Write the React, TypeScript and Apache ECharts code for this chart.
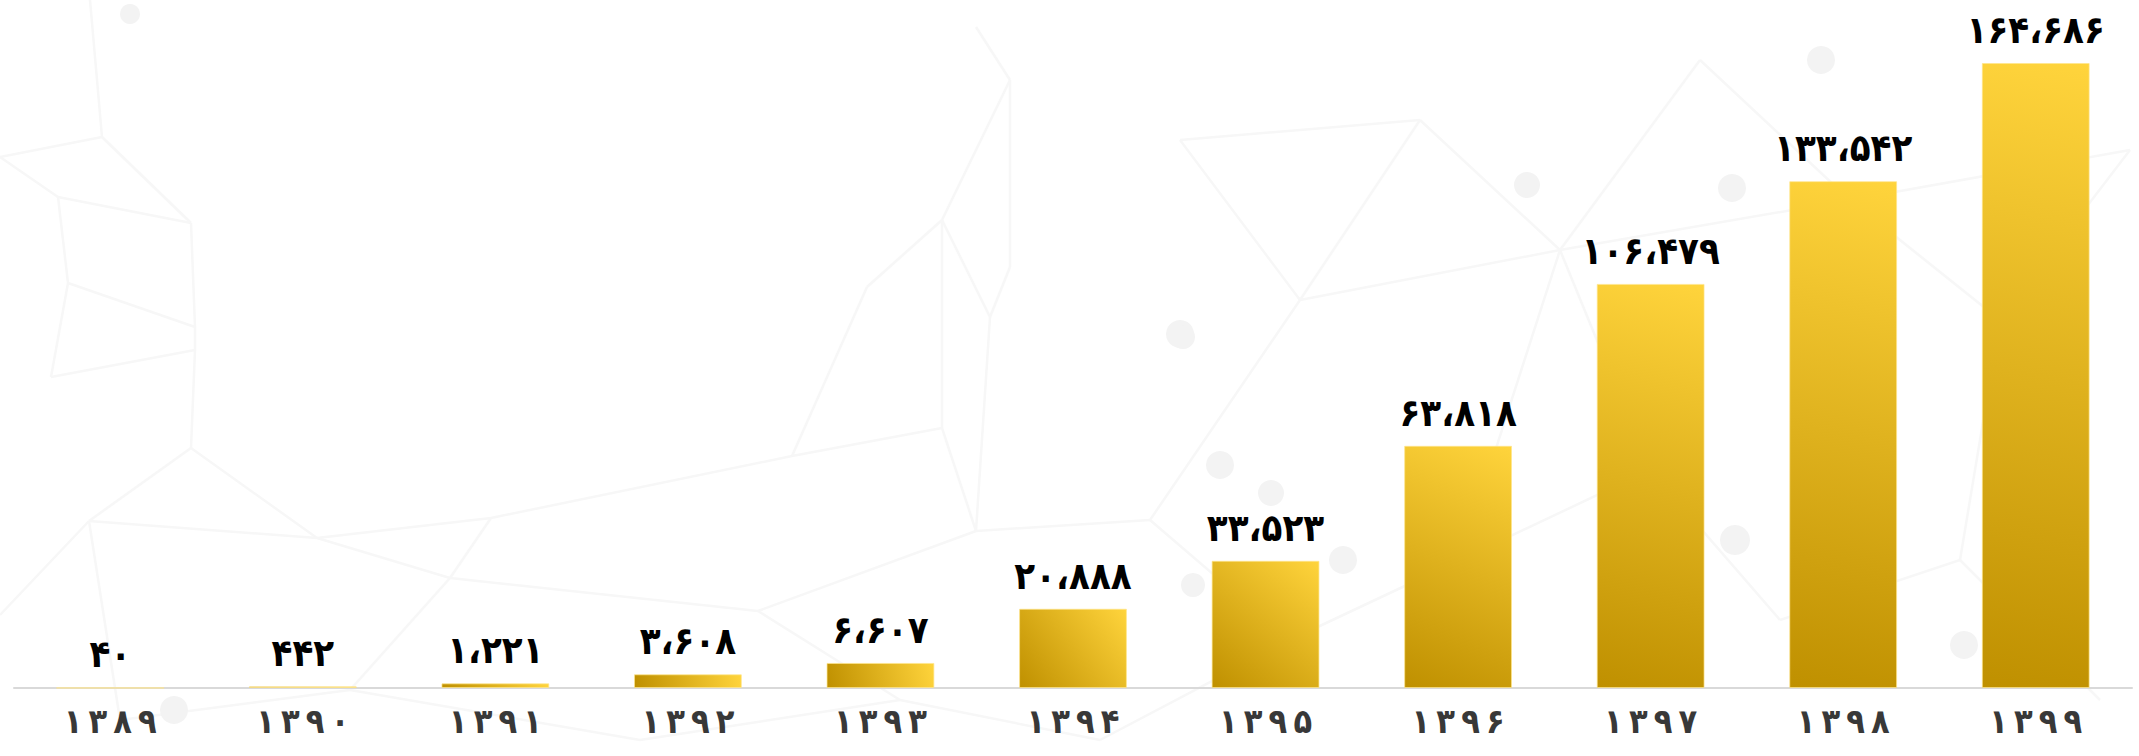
import React, { useEffect, useRef } from "react";
import * as echarts from "echarts";

const categories = ["1389", "1390", "1391", "1392", "1393", "1394", "1395", "1396", "1397", "1398", "1399"];
const values = [40, 442, 1221, 3608, 6607, 20888, 33523, 63818, 106479, 133542, 164686];

const faDigits = "۰۱۲۳۴۵۶۷۸۹";
const toFa = (s: string) => s.replace(/[0-9]/g, (d) => faDigits[Number(d)]);
const fmtValue = (v: number) => toFa(String(v).replace(/\B(?=(\d{3})+(?!\d))/g, "،"));
const fmtYear = (v: string) => toFa(v).split("").join("\u2009");

// faint decorative network in the background
const bgNodes: [number, number][] = [
  [0, 157], [58, 197], [68, 283], [191, 223], [195, 327], [195, 350], [51, 377], [102, 137], [90, 0],
  [89, 521], [191, 448], [317, 538], [491, 518], [792, 456], [942, 428], [976, 531], [758, 611], [450, 578], [0, 615],
  [1010, 80], [1010, 267], [990, 317], [942, 220], [867, 287], [976, 27],
  [1180, 140], [1300, 300], [1420, 120], [1560, 250], [1700, 60], [1850, 200], [2000, 320], [2130, 150],
  [1150, 520], [1290, 640], [1460, 560], [1650, 470], [1780, 620], [1960, 560], [2100, 700],
  [120, 720], [350, 690], [640, 740], [900, 700], [1100, 740],
];
const bgEdges: [number, number][] = [
  [0, 1], [1, 2], [1, 3], [3, 4], [4, 5], [5, 6], [2, 4], [0, 7], [7, 3], [7, 8], [2, 6],
  [9, 10], [9, 18], [10, 11], [11, 12], [12, 13], [13, 14], [14, 15], [15, 16], [16, 17], [17, 12], [11, 17], [9, 11],
  [19, 20], [20, 21], [21, 22], [22, 23], [19, 24], [22, 19], [14, 22], [23, 13], [21, 15],
  [25, 26], [26, 27], [27, 28], [28, 29], [29, 30], [30, 31], [31, 32], [25, 27], [26, 28], [28, 30], [30, 32],
  [33, 34], [34, 35], [35, 36], [36, 37], [37, 38], [38, 39], [26, 33], [28, 35], [31, 38], [36, 28], [33, 15],
  [40, 41], [41, 42], [42, 43], [43, 44], [9, 40], [17, 41], [16, 43], [44, 34], [10, 5],
];
const bgCircles: [number, number, number][] = [
  [130, 14, 10], [174, 710, 14], [1180, 334, 14], [1821, 60, 14], [1732, 188, 14], [1527, 185, 13],
  [1183, 337, 12], [1220, 465, 14], [1271, 493, 13], [1343, 560, 14], [1735, 540, 15], [1193, 585, 12], [1964, 645, 14],
];

export default function App() {
  const ref = useRef<HTMLDivElement>(null);
  useEffect(() => {
    if (!ref.current) return;
    const chart = echarts.init(ref.current, undefined, { renderer: "svg" });
    const bgGraphics: any[] = [
      ...bgEdges.map(([a, b]) => ({
        type: "line",
        silent: true,
        z: -10,
        shape: { x1: bgNodes[a][0], y1: bgNodes[a][1], x2: bgNodes[b][0], y2: bgNodes[b][1] },
        style: { stroke: "#f7f7f7", lineWidth: 2.5 },
      })),
      ...bgCircles.map(([cx, cy, r]) => ({
        type: "circle",
        silent: true,
        z: -9,
        shape: { cx, cy, r },
        style: { fill: "#f3f3f3" },
      })),
    ];
    const base: any = {
      animation: false,
      backgroundColor: "#ffffff",
      graphic: bgGraphics,
      grid: { left: 14, right: 7, top: 63, bottom: 68, containLabel: false },
      xAxis: {
        type: "category",
        data: categories,
        axisLine: { show: true, lineStyle: { color: "#d9d9d9", width: 2 } },
        axisTick: { show: false },
        axisLabel: {
          formatter: (v: string) => fmtYear(v),
          color: "#383838",
          fontSize: 34,
          fontWeight: "bold",
          fontFamily: "DejaVu Sans Condensed",
          margin: 16,
        },
      },
      yAxis: {
        type: "value",
        min: 0,
        max: "dataMax",
        show: false,
        splitLine: { show: false },
      },
      series: [
        {
          type: "bar",
          data: values,
          barWidth: "56%",
          itemStyle: {
            color: "#E0B020",
            borderColor: "rgba(255,230,140,0.7)",
            borderWidth: 1,
          },
          label: {
            show: true,
            position: "top",
            distance: 14,
            formatter: (p: any) => fmtValue(p.value),
            color: "#000000",
            fontSize: 38,
            fontWeight: "bold",
            fontFamily: "DejaVu Sans Condensed",
          },
        },
      ],
    };
    chart.setOption(base);
    // diagonal gradient from bottom-left to top-right in pixel space, mapped into bbox units
    const c0 = chart.convertToPixel({ seriesIndex: 0 }, [0, 0]) as number[];
    const c1 = chart.convertToPixel({ seriesIndex: 0 }, [1, 0]) as number[];
    const w = Math.abs(c1[0] - c0[0]) * 0.56;
    const data = values.map((v, i) => {
      const top = chart.convertToPixel({ seriesIndex: 0 }, [i, v]) as number[];
      const bot = chart.convertToPixel({ seriesIndex: 0 }, [i, 0]) as number[];
      const h = Math.max(Math.abs(bot[1] - top[1]), 0.5);
      const w2 = w * w;
      const h2 = h * h;
      const k = (w2 + h2) / (w2 * w2 + h2 * h2);
      return {
        value: v,
        itemStyle: {
          color: {
            type: "linear",
            x: 0,
            y: 1,
            x2: w2 * k,
            y2: 1 - h2 * k,
            colorStops: [
              { offset: 0, color: "#BF9000" },
              { offset: 1, color: "#FFD43C" },
            ],
          },
        },
      };
    });
    chart.setOption({ series: [{ data }] });
    return () => chart.dispose();
  }, []);
  return (
    <div
      ref={ref}
      style={{ position: "fixed", left: 0, top: 0, width: 2139, height: 756 }}
    />
  );
}
